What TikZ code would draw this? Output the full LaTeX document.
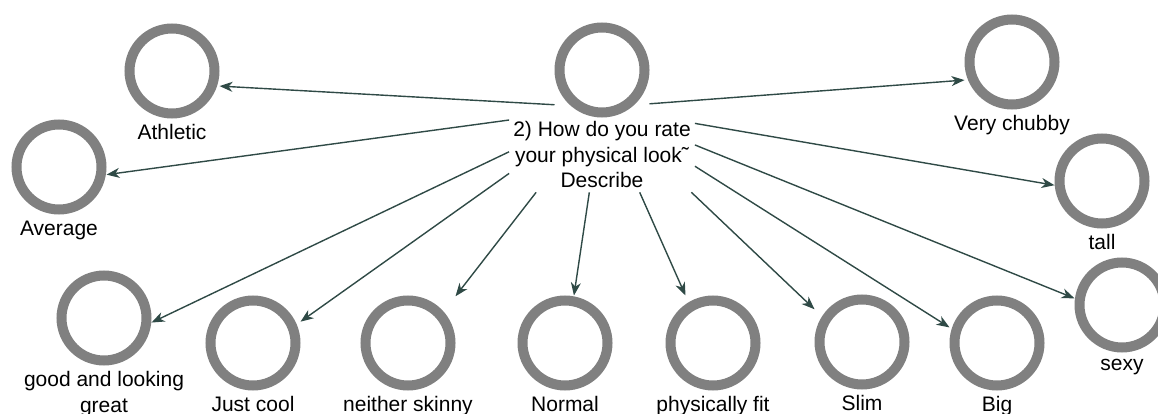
\documentclass[tikz,border=0pt]{standalone}
\usepackage{fontspec}
\setmainfont{Liberation Sans}
\usetikzlibrary{arrows.meta,positioning,fit,intersections}
\definecolor{ringgray}{HTML}{808080}
\definecolor{wire}{HTML}{2F4A46}
\tikzset{
  opt/.style={circle, draw=ringgray, line width=10pt, minimum size=85pt, inner sep=0pt},
  optlbl/.style={align=center, inner sep=3pt, font=\fontsize{21}{25.5}\selectfont, text=black},
  grp/.style={inner sep=0pt},
  flow/.style={-{Stealth[length=13pt, width=10pt, inset=4pt]}, draw=wire, line width=1.4pt}
}

\begin{document}
\begin{tikzpicture}[x=1pt, y=-1pt]
 \useasboundingbox (0,0) rectangle (1158,414);
 % the question
 \node[opt] (qc) at (602,70) {};
 \node[optlbl, below=0pt of qc, inner sep=4pt] (q) {2) How do you rate\\your physical look\char"02DC\\Describe};
 \node[grp, fit=(qc)(q)] (hub) {};
 \path[name path=src] (qc.west|-qc.north) rectangle (qc.east|-qc.south) (q.north west) rectangle (q.south east);

 % the answers
 \node[opt] (ath) at (172,71) {};   \node[optlbl, below=3pt of ath] (ath-l) {Athletic};
 \node[opt] (avg) at (59,167) {};   \node[optlbl, below=3pt of avg] (avg-l) {Average};
 \node[opt] (good) at (104,318) {}; \node[optlbl, below=3pt of good] (good-l) {good and looking\\great};
 \node[opt] (cool) at (253,343) {}; \node[optlbl, below=3pt of cool] (cool-l) {Just cool};
 \node[opt] (neit) at (408,343) {}; \node[optlbl, below=3pt of neit] (neit-l) {neither skinny};
 \node[opt] (norm) at (565,343) {}; \node[optlbl, below=3pt of norm] (norm-l) {Normal};
 \node[opt] (phys) at (713,343) {}; \node[optlbl, below=3pt of phys] (phys-l) {physically fit};
 \node[opt] (slim) at (862,342) {}; \node[optlbl, below=3pt of slim] (slim-l) {Slim};
 \node[opt] (big) at (997,343) {};  \node[optlbl, below=3pt of big] (big-l) {Big};
 \node[opt] (sexy) at (1122,305) {};\node[optlbl, below=3pt of sexy] (sexy-l) {sexy};
 \node[opt] (tall) at (1102,181) {};\node[optlbl, below=3pt of tall] (tall-l) {tall};
 \node[opt] (chub) at (1012,62) {}; \node[optlbl, below=3pt of chub] (chub-l) {Very chubby};

 % edges run centre to centre, cut at the boxes
 \foreach \n in {ath,avg,good,cool,neit,norm,phys,slim,big,sexy,tall,chub}{
   \node[grp, fit=(\n)(\n-l)] (\n-g) {};
   \path[name path=ray] (hub.center) -- (\n-g.center);
   \path[name path=sq] (\n.west|-\n.north) rectangle (\n.east|-\n.south);
   \path[name intersections={of=ray and src, sort by=ray, total=\k}] (intersection-\k) coordinate (s);
   \path[name intersections={of=ray and sq, sort by=ray}] (intersection-1) coordinate (e);
   \draw[flow] (s) -- (e);
 }
\end{tikzpicture}
\end{document}
